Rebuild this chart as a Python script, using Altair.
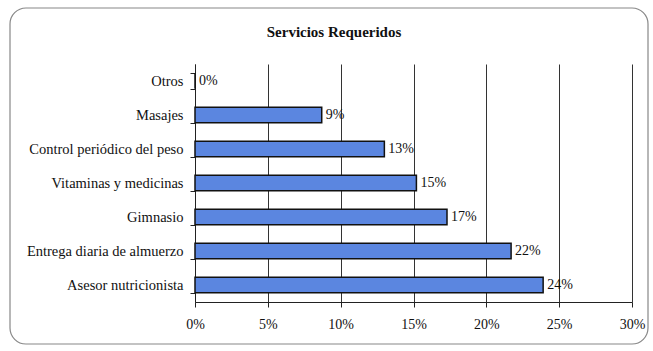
import altair as alt
import pandas as pd

# Survey: services requested (share of respondents)
servicios = [
    "Otros",
    "Masajes",
    "Control periódico del peso",
    "Vitaminas y medicinas",
    "Gimnasio",
    "Entrega diaria de almuerzo",
    "Asesor nutricionista",
]
porcentajes = [0.0, 0.087, 0.130, 0.152, 0.173, 0.217, 0.239]
ticks_x = [0, 0.05, 0.10, 0.15, 0.20, 0.25, 0.30]

df = pd.DataFrame({"servicio": servicios, "pct": porcentajes})

FONT = "Liberation Serif"
W, H = 437, 238
LEFT, TOP = 195, 64

y_enc = alt.Y(
    "servicio:N",
    sort=servicios,
    title=None,
    scale=alt.Scale(paddingInner=0.55, paddingOuter=0.275),
    axis=alt.Axis(
        tickBand="extent",
        tickSize=5,
        tickColor="#222",
        domainColor="#222",
        labelFont=FONT,
        labelFontSize=14.5,
        labelColor="#111",
        labelPadding=7,
        grid=False,
    ),
)
x_enc = alt.X(
    "pct:Q",
    title=None,
    scale=alt.Scale(domain=[0, 0.30]),
    axis=alt.Axis(
        values=ticks_x,
        format=".0%",
        tickSize=5,
        tickColor="#222",
        domainColor="#222",
        labelFont=FONT,
        labelFontSize=14,
        labelColor="#111",
        labelPadding=10,
        labelFlush=False,
        labelBound=False,
        grid=True,
        gridColor="#333",
        gridWidth=1,
    ),
)

base = alt.Chart(df)

bars = base.mark_bar(
    color="#5b86e0", stroke="#111", strokeWidth=1.5
).encode(x=x_enc, y=y_enc)

labels = base.mark_text(
    align="left", baseline="middle", dx=4, font=FONT, fontSize=14, color="#111"
).encode(
    x="pct:Q",
    y=alt.Y("servicio:N", sort=servicios),
    text=alt.Text("pct:Q", format=".0%"),
)

# Rounded frame around the whole chart
frame = alt.Chart(pd.DataFrame({"k": [0]})).mark_rect(
    fill=None, stroke="#888", strokeWidth=1.2, cornerRadius=16, clip=False
).encode(
    x=alt.value(10 - LEFT),
    x2=alt.value(648 - LEFT),
    y=alt.value(8 - TOP),
    y2=alt.value(344 - TOP),
)

title = alt.Chart(pd.DataFrame({"t": ["Servicios Requeridos"]})).mark_text(
    font=FONT, fontSize=15, fontWeight="bold", color="#111",
    align="center", baseline="middle",
).encode(
    text="t:N",
    x=alt.value(334 - LEFT),
    y=alt.value(32 - TOP),
)

chart = (
    alt.layer(frame, bars, labels, title)
    .properties(
        width=W,
        height=H,
        autosize=alt.AutoSizeParams(type="none"),
        padding={"left": LEFT, "top": TOP, "right": 653 - LEFT - W, "bottom": 351 - TOP - H},
        background="white",
    )
    .configure_view(stroke=None)
)

chart.save("out.html", embed_options={"renderer": "svg", "actions": False})
